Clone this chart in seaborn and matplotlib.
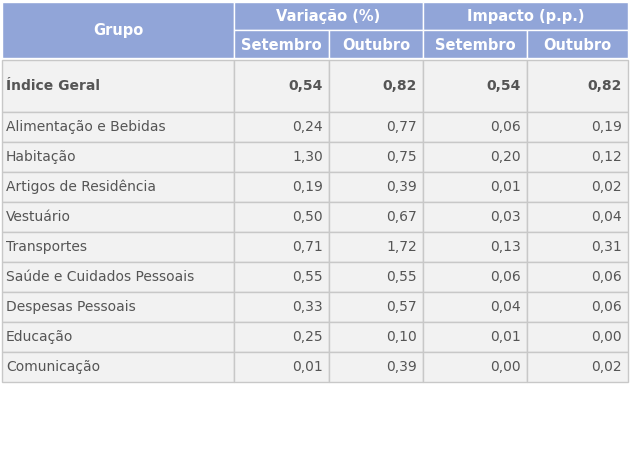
import matplotlib
matplotlib.use("Agg")
import matplotlib.pyplot as plt
from matplotlib.patches import Rectangle
import seaborn as sns

sns.set_style("white")
plt.rcParams['font.family'] = ['DejaVu Sans']

grupos = ["Índice Geral", "Alimentação e Bebidas", "Habitação", "Artigos de Residência",
          "Vestuário", "Transportes", "Saúde e Cuidados Pessoais", "Despesas Pessoais",
          "Educação", "Comunicação"]
var_set = ["0,54", "0,24", "1,30", "0,19", "0,50", "0,71", "0,55", "0,33", "0,25", "0,01"]
var_out = ["0,82", "0,77", "0,75", "0,39", "0,67", "1,72", "0,55", "0,57", "0,10", "0,39"]
imp_set = ["0,54", "0,06", "0,20", "0,01", "0,03", "0,13", "0,06", "0,04", "0,01", "0,00"]
imp_out = ["0,82", "0,19", "0,12", "0,02", "0,04", "0,31", "0,06", "0,06", "0,00", "0,02"]

W, H = 644, 465
fig = plt.figure(figsize=(W / 100, H / 100), dpi=100)
ax = fig.add_axes([0, 0, 1, 1])
ax.set_xlim(0, W)
ax.set_ylim(H, 0)
ax.axis("off")

hdr = "#91A5D8"
body = "#F2F2F2"
edge = "#C8C8C8"
txt = "#555555"
cols = [2, 234, 329, 423, 527, 628]

def cell(x0, y0, x1, y1, fc, ec):
    ax.add_patch(Rectangle((x0, y0), x1 - x0, y1 - y0, facecolor=fc, edgecolor=ec, lw=1))

# header
cell(cols[0], 2, cols[1], 58, hdr, "white")
ax.text((cols[0] + cols[1]) / 2, 30, "Grupo", color="white", weight="bold", fontsize=10.5, ha="center", va="center")
for (a, b, t) in [(1, 3, "Variação (%)"), (3, 5, "Impacto (p.p.)")]:
    cell(cols[a], 2, cols[b], 30, hdr, "white")
    ax.text((cols[a] + cols[b]) / 2, 17, t, color="white", weight="bold", fontsize=10.5, ha="center", va="center")
subs = ["Setembro", "Outubro", "Setembro", "Outubro"]
for i, s in enumerate(subs):
    cell(cols[i + 1], 30, cols[i + 2], 58, hdr, "white")
    ax.text((cols[i + 1] + cols[i + 2]) / 2, 45, s, color="white", weight="bold", fontsize=10.5, ha="center", va="center")

# body
y = 60
for r, g in enumerate(grupos):
    h = 52 if r == 0 else 30
    bold = "bold" if r == 0 else "normal"
    vals = [var_set[r], var_out[r], imp_set[r], imp_out[r]]
    cell(cols[0], y, cols[1], y + h, body, edge)
    ax.text(cols[0] + 4, y + h / 2, g, color=txt, weight=bold, fontsize=10, ha="left", va="center")
    for i, v in enumerate(vals):
        cell(cols[i + 1], y, cols[i + 2], y + h, body, edge)
        ax.text(cols[i + 2] - 6, y + h / 2, v, color=txt, weight=bold, fontsize=10, ha="right", va="center")
    y += h

fig.savefig("out.png", dpi=100, facecolor="white")
